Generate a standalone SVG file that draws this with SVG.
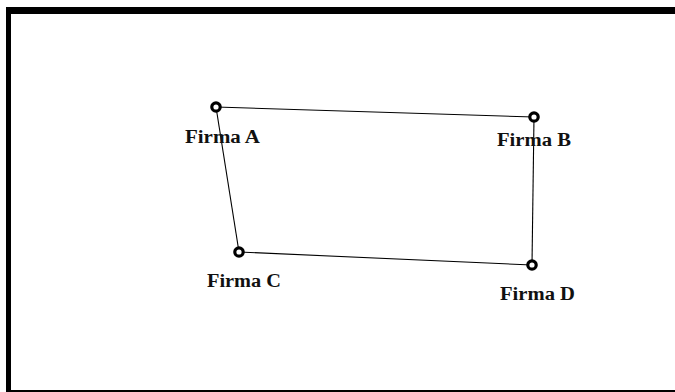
<svg xmlns="http://www.w3.org/2000/svg" width="675" height="392" viewBox="0 0 675 392">
<style>
.n{fill:#fff;stroke:#000;stroke-width:3.2}
.e{stroke:#000;stroke-width:1.1;fill:none}
.t{font-family:"Liberation Serif",serif;font-weight:bold;font-size:18px;fill:#111}
</style>
<rect width="675" height="392" fill="#fff"/>
<g id="frame">
<rect x="6" y="7" width="669" height="7" fill="#000"/>
<rect x="6" y="7" width="5" height="385" fill="#000"/>
<rect x="6" y="390" width="669" height="2" fill="#000"/>
</g>
<g id="connectors">
<line class="e" x1="216" y1="107" x2="534" y2="117"/>
<line class="e" x1="534" y1="117" x2="532" y2="265"/>
<line class="e" x1="532" y1="265" x2="239" y2="252"/>
<line class="e" x1="239" y1="252" x2="216" y2="107"/>
</g>
<g id="firmaA"><circle class="n" cx="216" cy="107" r="4.2"/><text class="t" x="185" y="143" textLength="75" lengthAdjust="spacingAndGlyphs">Firma A</text></g>
<g id="firmaB"><circle class="n" cx="534" cy="117" r="4.2"/><text class="t" x="497" y="146" textLength="74" lengthAdjust="spacingAndGlyphs">Firma B</text></g>
<g id="firmaC"><circle class="n" cx="239" cy="252" r="4.2"/><text class="t" x="207" y="287" textLength="74" lengthAdjust="spacingAndGlyphs">Firma C</text></g>
<g id="firmaD"><circle class="n" cx="532" cy="265" r="4.2"/><text class="t" x="500" y="300" textLength="75" lengthAdjust="spacingAndGlyphs">Firma D</text></g>
</svg>
